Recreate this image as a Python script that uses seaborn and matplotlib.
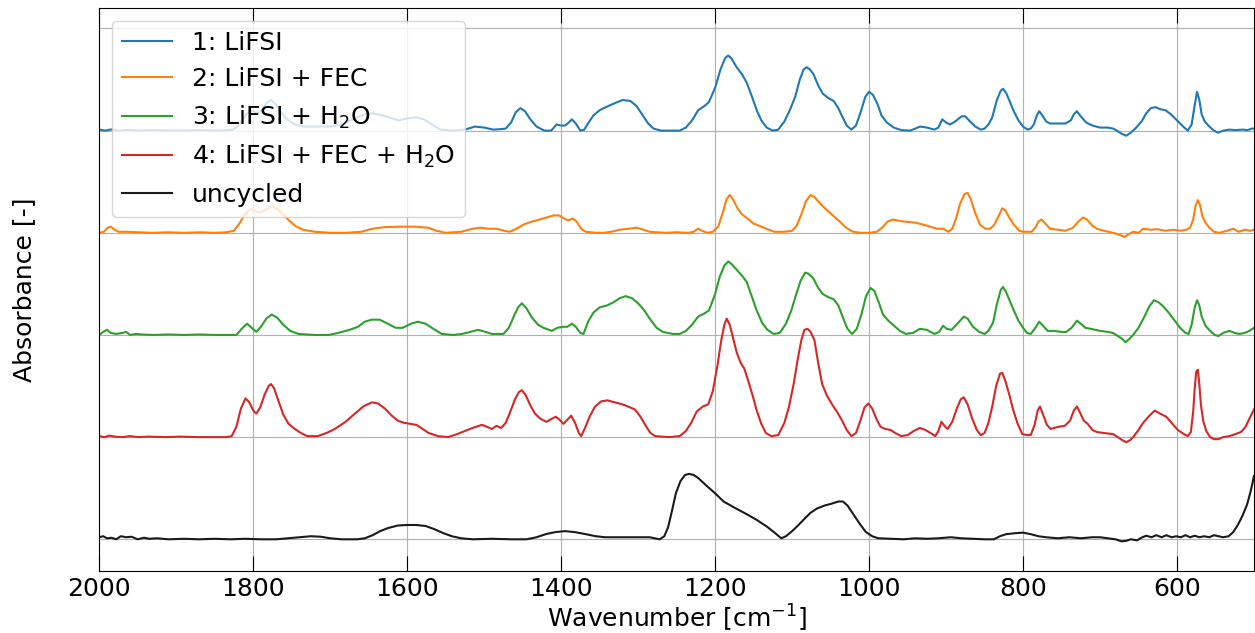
import numpy as np
import pandas as pd
import matplotlib
matplotlib.use("Agg")
import matplotlib.pyplot as plt
import seaborn as sns

# ---- FTIR spectra: (wavenumber [cm^-1], absorbance) pairs, baseline-corrected ----
lifsi = [(2000,0.01),(1992,0.0),(1985,0.012),(1975,0.0),(1962,0.008),(1950,0.0),(1930,0.005),(1900,0.0),
         (1870,0.005),(1840,0.0),(1826,0.01),(1818,0.06),(1810,0.15),(1803,0.2),(1796,0.17),(1790,0.19),
         (1783,0.27),(1777,0.3),(1771,0.26),(1764,0.18),(1756,0.11),(1746,0.06),(1735,0.04),(1720,0.04),
         (1700,0.04),(1685,0.06),(1668,0.12),(1655,0.16),(1645,0.17),(1632,0.15),(1620,0.12),(1611,0.1),
         (1600,0.12),(1588,0.13),(1578,0.11),(1568,0.06),(1557,0.01),(1540,0.0),(1525,0.01),(1512,0.04),
         (1500,0.03),(1488,0.01),(1478,0.015),(1472,0.02),(1465,0.08),(1459,0.18),(1453,0.22),(1447,0.19),
         (1440,0.11),(1432,0.04),(1422,0.0),(1413,0.0),(1406,0.06),(1400,0.05),(1395,0.05),(1390,0.08),
         (1386,0.11),(1381,0.07),(1375,0.0),(1370,0.01),(1366,0.06),(1358,0.15),(1350,0.2),(1339,0.24),
         (1330,0.27),(1320,0.30),(1310,0.29),(1302,0.24),(1294,0.15),(1287,0.07),(1280,0.02),(1270,0.0),
         (1255,0.0),(1246,0.0),(1238,0.03),(1230,0.1),(1222,0.2),(1214,0.24),(1208,0.28),(1200,0.42),
         (1193,0.6),(1187,0.71),(1183,0.735),(1179,0.71),(1172,0.62),(1165,0.55),(1159,0.47),(1152,0.33),
         (1146,0.2),(1140,0.1),(1133,0.03),(1125,0.0),(1118,0.01),(1110,0.09),(1103,0.2),(1096,0.33),
         (1090,0.5),(1085,0.6),(1081,0.62),(1077,0.6),(1072,0.55),(1066,0.44),(1060,0.36),(1053,0.32),
         (1046,0.29),(1040,0.22),(1035,0.14),(1029,0.05),(1023,0.01),(1017,0.05),(1011,0.18),(1005,0.33),
         (1000,0.38),(995,0.35),(989,0.26),(984,0.15),(977,0.08),(968,0.03),(958,0.005),(947,0.0),
         (940,0.02),(934,0.04),(925,0.03),(915,0.01),(910,0.03),(905,0.11),(900,0.08),(895,0.06),
         (888,0.09),(880,0.14),(875,0.14),(869,0.09),(862,0.04),(855,0.01),(850,0.02),(845,0.06),
         (840,0.13),(834,0.3),(829,0.39),(826,0.41),(822,0.37),(817,0.28),(812,0.19),(806,0.1),
         (800,0.04),(794,0.01),(790,0.02),(786,0.06),(782,0.15),(779,0.19),(775,0.15),(770,0.09),
         (765,0.07),(755,0.07),(745,0.07),(738,0.1),(734,0.16),(730,0.19),(725,0.14),(718,0.08),
         (710,0.05),(700,0.03),(690,0.03),(683,0.02),(678,0.0),(672,-0.03),(666,-0.05),(660,-0.02),
         (653,0.03),(646,0.09),(640,0.17),(634,0.22),(628,0.23),(622,0.21),(615,0.2),(608,0.16),
         (600,0.1),(592,0.04),(586,0.0),(581,0.06),(577,0.25),(574,0.38),(571,0.3),(568,0.16),
         (564,0.09),(558,0.04),(552,0.0),(547,-0.02),(540,0.0),(532,0.01),(524,0.005),(515,0.01),
         (508,0.005),(503,0.02),(500,0.02)]

lifsi_fec = [(2000,0.0),(1994,0.01),(1989,0.05),(1985,0.06),(1980,0.03),(1975,0.01),(1965,0.01),(1950,0.005),
             (1930,0.0),(1910,0.005),(1890,0.0),(1870,0.005),(1850,0.0),(1835,0.005),(1825,0.02),(1818,0.09),
             (1811,0.18),(1804,0.23),(1797,0.21),(1790,0.2),(1783,0.23),(1775,0.26),(1768,0.23),(1760,0.17),
             (1752,0.11),(1744,0.06),(1735,0.03),(1720,0.01),(1700,0.0),(1680,0.0),(1660,0.01),(1645,0.04),
             (1630,0.055),(1610,0.06),(1590,0.06),(1573,0.05),(1562,0.02),(1550,0.0),(1530,0.01),(1515,0.04),
             (1505,0.05),(1495,0.04),(1484,0.04),(1474,0.02),(1467,0.01),(1458,0.04),(1449,0.08),(1438,0.11),
             (1428,0.13),(1419,0.15),(1410,0.17),(1403,0.17),(1396,0.14),(1391,0.12),(1385,0.14),(1380,0.11),
             (1374,0.04),(1368,0.01),(1355,0.0),(1345,0.0),(1335,0.01),(1324,0.03),(1312,0.04),(1302,0.05),
             (1293,0.03),(1285,0.01),(1265,0.0),(1250,0.005),(1235,0.0),(1228,0.01),(1222,0.04),(1217,0.02),
             (1210,0.0),(1203,0.01),(1196,0.06),(1190,0.2),(1185,0.33),(1181,0.37),(1177,0.33),(1171,0.24),
             (1165,0.18),(1158,0.14),(1150,0.09),(1140,0.06),(1130,0.03),(1123,0.01),(1110,0.01),(1100,0.02),
             (1094,0.07),(1088,0.18),(1082,0.31),(1076,0.37),(1071,0.35),(1064,0.29),(1056,0.23),(1047,0.17),
             (1038,0.11),(1030,0.05),(1021,0.01),(1010,0.0),(999,0.0),(990,0.01),(983,0.05),(976,0.11),
             (969,0.13),(955,0.11),(940,0.1),(925,0.07),(912,0.04),(904,0.04),(897,0.01),(892,0.04),
             (887,0.14),(882,0.28),(876,0.38),(872,0.39),(868,0.33),(862,0.19),(856,0.08),(849,0.04),
             (843,0.04),(838,0.07),(832,0.16),(827,0.24),(823,0.22),(818,0.15),(812,0.08),(805,0.02),
             (800,0.01),(789,0.01),(784,0.05),(780,0.11),(776,0.13),(771,0.09),(765,0.04),(755,0.03),
             (745,0.02),(735,0.05),(728,0.11),(722,0.15),(717,0.13),(710,0.07),(704,0.04),(695,0.02),
             (683,0.0),(675,-0.02),(668,-0.04),(662,-0.01),(657,0.01),(650,0.0),(644,0.04),(635,0.03),
             (625,0.035),(615,0.02),(605,0.03),(595,0.02),(588,0.03),(583,0.05),(579,0.13),(576,0.26),
             (573,0.32),(570,0.27),(567,0.16),(563,0.1),(558,0.05),(552,0.01),(545,0.0),(535,0.02),
             (527,0.04),(520,0.01),(512,0.03),(505,0.02),(500,0.03)]

lifsi_h2o = [(2000,0.0),(1995,0.03),(1990,0.05),(1985,0.02),(1978,0.01),(1970,0.02),(1965,0.03),(1960,0.0),
             (1952,0.01),(1945,0.005),(1930,0.0),(1910,0.005),(1890,0.0),(1870,0.005),(1850,0.0),(1835,0.0),
             (1822,0.0),(1815,0.06),(1808,0.11),(1802,0.07),(1796,0.03),(1790,0.08),(1783,0.16),(1776,0.2),
             (1769,0.17),(1761,0.1),(1752,0.04),(1741,0.01),(1720,0.0),(1702,0.0),(1690,0.02),(1675,0.05),
             (1664,0.08),(1655,0.13),(1646,0.15),(1636,0.15),(1625,0.11),(1615,0.07),(1606,0.07),(1595,0.11),
             (1586,0.13),(1576,0.11),(1566,0.06),(1555,0.01),(1540,0.0),(1529,0.01),(1518,0.03),(1508,0.05),
             (1498,0.03),(1490,0.01),(1475,0.01),(1468,0.07),(1461,0.19),(1456,0.27),(1451,0.31),(1445,0.26),
             (1438,0.17),(1430,0.1),(1423,0.07),(1412,0.04),(1405,0.07),(1398,0.08),(1392,0.08),(1386,0.11),
             (1381,0.08),(1375,0.02),(1371,0.01),(1365,0.13),(1358,0.22),(1350,0.27),(1340,0.29),(1332,0.32),
             (1324,0.36),(1316,0.38),(1308,0.36),(1300,0.31),(1292,0.24),(1284,0.15),(1276,0.07),(1268,0.03),
             (1255,0.01),(1246,0.01),(1238,0.04),(1230,0.1),(1222,0.18),(1214,0.21),(1208,0.24),(1200,0.4),
             (1194,0.57),(1188,0.68),(1183,0.72),(1178,0.69),(1171,0.63),(1165,0.58),(1159,0.52),(1152,0.37),
             (1146,0.24),(1139,0.12),(1132,0.05),(1124,0.01),(1116,0.02),(1108,0.11),(1101,0.24),(1095,0.39),
             (1089,0.53),(1083,0.61),(1079,0.6),(1073,0.56),(1066,0.46),(1060,0.4),(1053,0.37),(1046,0.35),
             (1040,0.29),(1034,0.17),(1028,0.06),(1022,0.01),(1016,0.06),(1010,0.2),(1004,0.38),(998,0.46),
             (993,0.43),(987,0.31),(982,0.2),(975,0.14),(969,0.1),(960,0.04),(952,0.01),(943,0.02),
             (934,0.06),(925,0.05),(915,0.01),(909,0.03),(904,0.09),(899,0.06),(893,0.05),(884,0.12),
             (877,0.18),(872,0.16),(865,0.08),(857,0.03),(850,0.01),(845,0.04),(839,0.12),(834,0.3),
             (829,0.44),(826,0.47),(822,0.42),(817,0.33),(812,0.24),(806,0.14),(800,0.07),(795,0.02),
             (790,0.01),(784,0.07),(779,0.13),(774,0.09),(768,0.04),(760,0.04),(750,0.03),(744,0.03),
             (737,0.07),(730,0.14),(725,0.11),(719,0.07),(712,0.06),(700,0.04),(690,0.03),(683,0.02),
             (677,-0.01),(671,-0.04),(667,-0.07),(662,-0.04),(657,0.0),(650,0.07),(643,0.17),(636,0.28),
             (630,0.34),(624,0.32),(618,0.28),(611,0.22),(604,0.15),(596,0.07),(589,0.02),(585,0.01),
             (581,0.1),(577,0.27),(574,0.34),(571,0.29),(568,0.18),(563,0.09),(557,0.04),(551,0.0),
             (546,-0.01),(540,0.02),(532,0.04),(525,0.02),(519,0.01),(512,0.02),(506,0.04),(500,0.07)]

lifsi_fec_h2o = [(2000,0.01),(1993,0.0),(1987,0.015),(1980,0.005),(1970,0.0),(1960,0.01),(1950,0.0),(1935,0.005),
                 (1915,0.0),(1895,0.005),(1870,0.0),(1850,0.0),(1835,0.0),(1828,0.01),(1822,0.1),(1816,0.28),
                 (1810,0.38),(1805,0.34),(1800,0.26),(1796,0.23),(1791,0.29),(1785,0.42),(1780,0.5),(1777,0.52),
                 (1773,0.48),(1767,0.35),(1761,0.22),(1754,0.13),(1746,0.08),(1738,0.04),(1730,0.01),(1716,0.01),
                 (1705,0.04),(1694,0.08),(1680,0.15),(1668,0.23),(1657,0.3),(1646,0.34),(1638,0.33),(1629,0.28),
                 (1620,0.21),(1612,0.16),(1604,0.14),(1596,0.13),(1588,0.12),(1580,0.08),(1572,0.04),(1560,0.01),
                 (1547,0.0),(1535,0.03),(1525,0.06),(1515,0.09),(1503,0.12),(1496,0.1),(1490,0.08),(1484,0.11),
                 (1478,0.09),(1472,0.14),(1466,0.25),(1460,0.37),(1455,0.44),(1451,0.46),(1446,0.41),(1440,0.31),
                 (1434,0.23),(1427,0.18),(1419,0.15),(1412,0.18),(1407,0.2),(1402,0.17),(1397,0.13),(1392,0.17),
                 (1387,0.21),(1382,0.14),(1377,0.04),(1374,0.01),(1369,0.09),(1363,0.2),(1356,0.3),(1348,0.35),
                 (1340,0.36),(1330,0.34),(1320,0.32),(1310,0.29),(1304,0.27),(1297,0.2),(1290,0.11),(1284,0.04),
                 (1278,0.01),(1260,0.0),(1246,0.01),(1238,0.06),(1231,0.14),(1224,0.25),(1216,0.3),(1209,0.32),
                 (1203,0.45),(1197,0.7),(1192,0.95),(1188,1.1),(1185,1.16),(1181,1.1),(1177,0.98),(1172,0.83),
                 (1167,0.73),(1162,0.67),(1157,0.55),(1151,0.4),(1146,0.26),(1140,0.13),(1134,0.04),(1127,0.01),
                 (1118,0.02),(1110,0.14),(1104,0.3),(1098,0.52),(1093,0.75),(1088,0.95),(1084,1.05),(1080,1.06),
                 (1076,1.03),(1071,0.95),(1066,0.72),(1061,0.52),(1055,0.41),(1048,0.32),(1041,0.24),(1035,0.16),
                 (1029,0.07),(1023,0.01),(1017,0.04),(1011,0.17),(1006,0.29),(1001,0.33),(996,0.28),(990,0.17),
                 (985,0.1),(979,0.08),(972,0.07),(966,0.04),(958,0.01),(950,0.02),(942,0.06),(934,0.09),
                 (927,0.07),(920,0.04),(914,0.01),(910,0.06),(906,0.15),(902,0.11),(898,0.08),(892,0.15),
                 (886,0.28),(881,0.37),(877,0.39),(872,0.32),(866,0.18),(860,0.07),(855,0.02),(850,0.04),
                 (845,0.14),(840,0.3),(835,0.5),(830,0.62),(827,0.63),(823,0.55),(818,0.42),(813,0.27),
                 (807,0.13),(801,0.03),(795,0.02),(790,0.02),(785,0.12),(781,0.26),(778,0.3),(774,0.22),
                 (769,0.12),(764,0.08),(755,0.1),(746,0.11),(739,0.16),(734,0.26),(730,0.3),(726,0.24),
                 (721,0.16),(716,0.13),(710,0.07),(704,0.05),(695,0.04),(683,0.03),(677,0.0),(671,-0.03),
                 (666,-0.05),(661,-0.03),(656,0.01),(650,0.07),(644,0.14),(637,0.2),(629,0.26),(622,0.23),
                 (614,0.2),(606,0.13),(599,0.07),(591,0.03),(586,0.01),(582,0.05),(579,0.25),(577,0.48),
                 (575,0.64),(573,0.66),(571,0.52),(569,0.32),(566,0.16),(562,0.06),(557,0.0),(552,-0.02),
                 (546,-0.02),(540,0.0),(532,0.01),(524,0.03),(517,0.05),(511,0.1),(506,0.18),(502,0.24),
                 (500,0.27)]

uncycled = [(2000,0.02),(1995,0.03),(1990,0.01),(1984,0.015),(1978,0.0),(1972,0.03),(1965,0.02),(1958,0.025),
            (1950,0.0),(1942,0.015),(1935,0.005),(1925,0.01),(1910,0.0),(1890,0.005),(1870,0.0),(1850,0.005),
            (1830,0.0),(1810,0.005),(1790,0.0),(1770,0.0),(1755,0.01),(1740,0.02),(1725,0.03),(1712,0.025),
            (1700,0.01),(1685,0.0),(1665,0.0),(1655,0.01),(1645,0.04),(1635,0.08),(1625,0.11),(1612,0.135),
            (1600,0.14),(1588,0.14),(1576,0.13),(1565,0.1),(1553,0.06),(1542,0.03),(1530,0.01),(1515,0.0),
            (1490,0.005),(1465,0.0),(1445,0.0),(1432,0.02),(1420,0.05),(1408,0.07),(1395,0.08),(1382,0.07),
            (1368,0.05),(1355,0.03),(1343,0.02),(1320,0.02),(1300,0.02),(1285,0.02),(1272,0.0),(1266,0.03),
            (1261,0.12),(1256,0.28),(1251,0.45),(1245,0.57),(1239,0.63),(1234,0.64),(1228,0.63),(1222,0.6),
            (1212,0.53),(1200,0.45),(1189,0.37),(1175,0.31),(1160,0.25),(1146,0.19),(1132,0.12),(1122,0.06),
            (1114,0.01),(1108,0.03),(1100,0.08),(1093,0.13),(1084,0.2),(1076,0.26),(1068,0.3),(1058,0.33),
            (1048,0.35),(1040,0.37),(1034,0.37),(1028,0.33),(1020,0.24),(1012,0.15),(1004,0.07),(996,0.03),
            (988,0.01),(970,0.005),(955,0.0),(940,0.01),(925,0.005),(910,0.01),(894,0.02),(880,0.01),
            (865,0.005),(850,0.0),(838,0.0),(830,0.03),(822,0.05),(810,0.06),(800,0.065),(790,0.05),
            (780,0.03),(770,0.02),(755,0.01),(740,0.02),(725,0.01),(710,0.02),(700,0.02),(690,0.01),
            (680,0.0),(672,-0.02),(666,-0.015),(660,0.0),(652,-0.01),(645,0.02),(640,0.035),(633,0.02),
            (627,0.04),(620,0.02),(614,0.04),(607,0.02),(601,0.03),(595,0.02),(589,0.04),(583,0.02),
            (577,0.035),(571,0.02),(565,0.03),(558,0.02),(552,0.04),(546,0.03),(540,0.02),(533,0.03),
            (527,0.07),(521,0.14),(515,0.23),(509,0.34),(504,0.48),(500,0.62)]

labels = ["1: LiFSI", "2: LiFSI + FEC", "3: LiFSI + H$_2$O",
          "4: LiFSI + FEC + H$_2$O", "uncycled"]
colors = ["#1f77b4", "#ff7f0e", "#2ca02c", "#d62728", "#1a1a1a"]
offsets = [4, 3, 2, 1, 0]
spectra = [lifsi, lifsi_fec, lifsi_h2o, lifsi_fec_h2o, uncycled]

# long-form table, each spectrum shifted up by its stacking offset
frames = []
for lab, off, spec in zip(labels, offsets, spectra):
    arr = np.asarray(spec, dtype=float)
    frames.append(pd.DataFrame({"wavenumber": arr[:, 0],
                                "absorbance": arr[:, 1] + off,
                                "sample": lab}))
df = pd.concat(frames, ignore_index=True)

plt.rcParams["font.family"] = ["DejaVu Sans"]
fig = plt.figure(figsize=(12.55, 6.33), dpi=100)
ax = fig.add_axes([0.0791, 0.098, 0.9201, 0.8893])

sns.lineplot(data=df, x="wavenumber", y="absorbance", hue="sample",
             hue_order=labels, palette=colors, estimator=None, sort=True,
             linewidth=1.5, ax=ax)

ax.set_xlim(2000, 500)
ax.set_ylim(-0.31, 5.2)
ax.set_xticks(list(range(2000, 599, -200)))
ax.set_yticks(list(range(0, 6)))
ax.set_yticklabels([])
ax.grid(True, color="#b0b0b0", linewidth=0.8)
ax.set_axisbelow(True)
ax.tick_params(axis="x", direction="in", top=True, length=11, labelsize=18, pad=4)
ax.tick_params(axis="y", length=0)
ax.set_xlabel("Wavenumber [cm$^{-1}$]", fontsize=18, labelpad=2)
ax.set_ylabel("Absorbance [-]", fontsize=18, labelpad=42)

handles, _ = ax.get_legend_handles_labels()
ax.legend(handles=handles, labels=labels, loc="upper left", fontsize=18)

fig.savefig("out.png", dpi=100)
